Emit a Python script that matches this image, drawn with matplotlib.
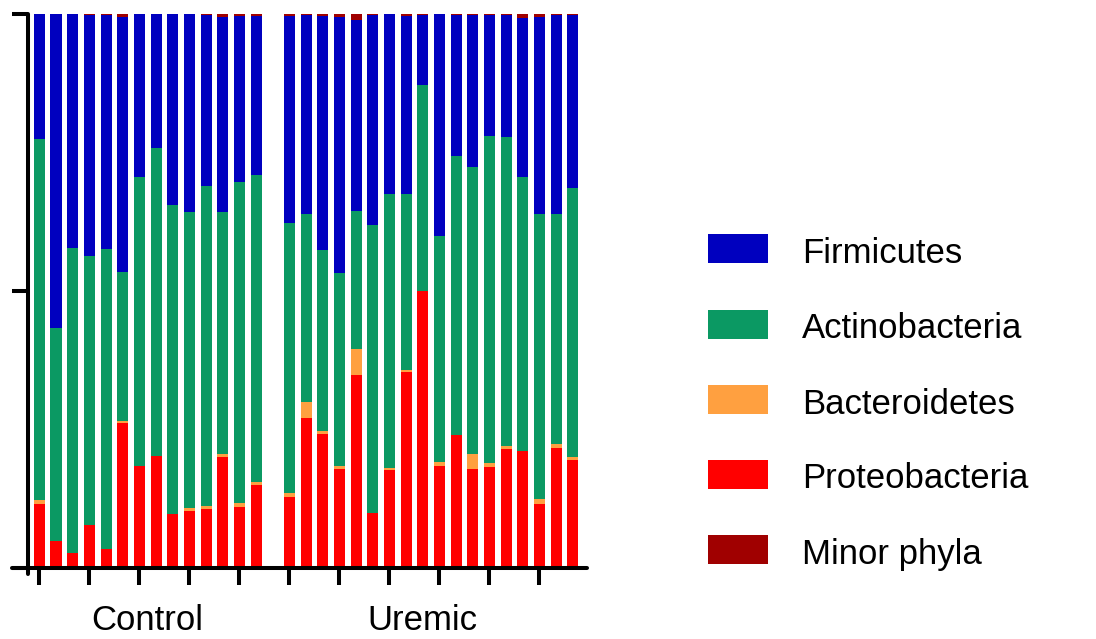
import numpy as np
import matplotlib.pyplot as plt
from matplotlib.patches import Rectangle

plt.rcParams['font.family'] = ['Liberation Sans', 'DejaVu Sans']

# relative abundance (%) per sample, 14 control + 18 uremic
proteo_ctrl = [11.6, 4.9, 2.7, 7.8, 3.5, 26.1, 18.5, 20.2, 9.8, 10.3, 10.7, 20.0, 11.1, 14.9]
bactero_ctrl = [0.7, 0, 0, 0, 0, 0.5, 0, 0, 0, 0.5, 0.5, 0.5, 0.6, 0.6]
actino_ctrl = [65.1, 38.5, 55.0, 48.5, 54.0, 26.9, 52.1, 55.7, 55.7, 53.5, 57.8, 43.8, 58.0, 55.5]
firmi_ctrl = [22.6, 56.6, 42.3, 43.5, 42.3, 45.9, 29.4, 24.1, 34.5, 35.7, 30.8, 35.2, 30.0, 28.7]
minor_ctrl = [0, 0, 0, 0.2, 0.2, 0.6, 0, 0, 0, 0, 0.2, 0.5, 0.3, 0.3]

proteo_ure = [12.9, 27.0, 24.2, 17.8, 34.8, 9.9, 17.6, 35.3, 50.0, 18.5, 24.0, 17.9, 18.3, 21.5, 21.2, 11.5, 21.7, 19.5]
bactero_ure = [0.6, 2.9, 0.6, 0.6, 4.7, 0, 0.5, 0.5, 0, 0.6, 0, 2.7, 0.6, 0.6, 0, 0.9, 0.6, 0.6]
actino_ure = [48.7, 34.0, 32.6, 34.9, 25.0, 52.0, 49.4, 31.7, 37.2, 40.9, 50.4, 51.7, 59.1, 55.7, 49.4, 51.5, 41.6, 48.5]
firmi_ure = [37.5, 35.9, 42.3, 46.1, 34.5, 37.9, 32.5, 32.2, 12.6, 40.0, 25.4, 27.5, 21.8, 22.0, 28.7, 35.6, 35.9, 31.2]
minor_ure = [0.3, 0.2, 0.3, 0.6, 1.0, 0.2, 0, 0.3, 0.2, 0, 0.2, 0.2, 0.2, 0.2, 0.7, 0.5, 0.2, 0.2]

groups = ['Control', 'Uremic']
phyla = ['Firmicutes', 'Actinobacteria', 'Bacteroidetes', 'Proteobacteria', 'Minor phyla']
colors = {'Firmicutes': '#0000BF', 'Actinobacteria': '#0B9963', 'Bacteroidetes': '#FFA040',
          'Proteobacteria': '#FF0000', 'Minor phyla': '#A00000'}

data = {
    'Proteobacteria': proteo_ctrl + proteo_ure,
    'Bacteroidetes': bactero_ctrl + bactero_ure,
    'Actinobacteria': actino_ctrl + actino_ure,
    'Firmicutes': firmi_ctrl + firmi_ure,
    'Minor phyla': minor_ctrl + minor_ure,
}

n_ctrl = len(proteo_ctrl)
n_ure = len(proteo_ure)
x = np.concatenate([np.arange(n_ctrl), np.arange(n_ure) + n_ctrl + 1])

W, H = 1096, 639
fig = plt.figure(figsize=(W / 100, H / 100), dpi=100)
ax = fig.add_axes([12 / W, (H - 568) / H, 575 / W, 554 / H])

bottom = np.zeros(len(x))
for name in ['Proteobacteria', 'Bacteroidetes', 'Actinobacteria', 'Firmicutes', 'Minor phyla']:
    vals = np.array(data[name])
    ax.bar(x, vals, bottom=bottom, width=0.66, color=colors[name], linewidth=0)
    bottom += vals

ax.set_xlim(-1.64, 32.86)
ax.set_ylim(0, 100)

for s in ['top', 'right']:
    ax.spines[s].set_visible(False)
ax.spines['left'].set_position(('data', -0.68))
ax.spines['left'].set_bounds(-1, 100)
for s in ['left', 'bottom']:
    ax.spines[s].set_linewidth(2.9)
    ax.spines[s].set_capstyle('round')

ax.set_yticks([0, 50, 100])
ax.set_yticklabels([])
ax.set_xticks(list(range(0, n_ctrl, 3)) + list(range(n_ctrl + 1, n_ctrl + 1 + n_ure, 3)))
ax.set_xticklabels([])
ax.tick_params(axis='y', direction='out', length=11.5, width=2.9)
ax.tick_params(axis='x', direction='out', length=12, width=2.9)
for t in ax.xaxis.get_major_ticks() + ax.yaxis.get_major_ticks():
    t.tick1line.set_solid_capstyle('round')

# group labels under the axis
label_pos = [(n_ctrl - 1) / 2, 23.0]
for pos, name in zip(label_pos, groups):
    ax.text(pos, -0.094, name, ha='center', va='center', fontsize=25,
            transform=ax.get_xaxis_transform())

# legend drawn by hand on the right
baselines = [263, 338.5, 413.5, 488.5, 564]
for name, yb in zip(phyla, baselines):
    fig.add_artist(Rectangle((708 / W, (H - yb) / H), 60 / W, 29 / H,
                             transform=fig.transFigure, color=colors[name], lw=0))
    fig.text(802 / W, (H - yb) / H, name, fontsize=25, ha='left', va='baseline')

fig.savefig('out.png', dpi=100)
